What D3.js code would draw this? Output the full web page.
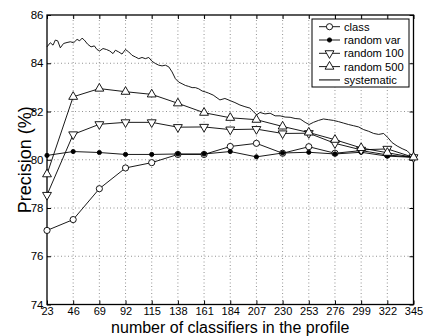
<!DOCTYPE html>
<html><head><meta charset="utf-8">
<script src="https://cdn.jsdelivr.net/npm/d3@7"></script>
<style>body{margin:0;background:#fff}svg{display:block;font-family:"Liberation Sans",Arial,sans-serif}</style>
</head><body>
<script>
const xTicks = [23,46,69,92,115,138,161,184,207,230,253,276,299,322,345];
const yTicks = [74,76,78,80,82,84,86];
const seriesNames = ["class","random var","random 100","random 500","systematic"];
const classVals   = [77.07,77.52,78.80,79.66,79.88,80.22,80.22,80.55,80.68,80.27,80.54,80.27,80.38,80.20,80.10];
const randVarVals = [80.18,80.34,80.30,80.22,80.22,80.24,80.24,80.34,80.12,80.28,80.31,80.24,80.31,80.15,80.10];
const rand100Vals = [78.54,81.05,81.47,81.55,81.55,81.35,81.36,81.25,81.27,81.09,81.10,80.68,80.41,80.45,80.10];
const rand500Vals = [79.40,82.61,82.95,82.82,82.71,82.34,81.95,81.74,81.66,81.38,81.13,80.83,80.49,80.29,80.10];
const sysX = [23,25.9,28.3,30.3,32.4,34.7,37.6,40.6,43.5,46.4,49.4,51.7,53.8,55.8,58.7,61.7,64.6,66.9,69.3,72.2,75.2,78.1,81,83.1,86,88.9,91.9,94.8,97.7,100.7,103.6,106.5,109.4,112.4,115.3,118.2,121.2,124.1,127,130,132.9,135.8,138.7,141.7,144.6,147.5,150.5,153.4,156.3,159.3,162.2,165.1,169,174.9,179.3,184,188.1,192.5,196.9,201.3,204.3,207.2,210.1,214.5,219,223.4,227.8,232.2,236.6,241,245.4,249.8,253.3,257.1,261.5,265.9,270.3,274.7,279.1,283.5,287.9,292.4,296.8,301.2,305.6,310,314.4,318.8,322.6,326.2,330.6,335,339.4,345];
const sysVals = [84.68,84.85,84.75,84.96,84.93,84.64,84.82,84.86,84.89,84.85,84.99,84.93,85.04,84.96,84.79,84.68,84.72,84.57,84.51,84.61,84.57,84.51,84.40,84.54,84.47,84.38,84.57,84.47,84.33,84.26,84.19,84.24,84.19,84.24,84.08,83.99,83.92,83.89,83.92,83.85,83.64,83.36,83.22,83.15,83.08,83.04,82.99,82.99,82.94,82.85,82.81,82.76,82.68,82.48,82.54,82.45,82.37,82.27,82.20,82.14,82.00,81.86,81.96,81.90,81.93,81.82,81.82,81.77,81.76,81.71,81.69,81.55,81.46,81.55,81.63,81.69,81.66,81.63,81.58,81.52,81.46,81.41,81.36,81.25,81.18,81.09,81.05,81.09,80.91,80.71,80.57,80.46,80.37,80.10];
const xLabel = "number of classifiers in the profile";
const yLabel = "Precision (%)";

const W=424,H=336, m={l:47,r:10.5,t:15,b:31.5};
const svg=d3.select("body").append("svg").attr("width",W).attr("height",H);
const x=d3.scaleLinear().domain([23,345]).range([m.l,W-m.r]);
const y=d3.scaleLinear().domain([74,86]).range([H-m.b,m.t]);

// grid
const g=svg.append("g");
g.selectAll(".vg").data(xTicks.slice(1,-1)).join("line")
 .attr("x1",d=>x(d)).attr("x2",d=>x(d)).attr("y1",y(74)).attr("y2",y(86))
 .attr("stroke","#777").attr("stroke-width",0.8).attr("stroke-dasharray","1,2.5");
g.selectAll(".hg").data(yTicks.slice(1,-1)).join("line")
 .attr("x1",x(23)).attr("x2",x(345)).attr("y1",d=>y(d)).attr("y2",d=>y(d))
 .attr("stroke","#777").attr("stroke-width",0.8).attr("stroke-dasharray","1,2.5");

// axes
const tl=4;
svg.append("g").attr("transform",`translate(0,${y(74)})`)
 .call(d3.axisBottom(x).tickValues(xTicks).tickFormat(d3.format("d")).tickSize(-tl).tickPadding(2.5))
 .call(a=>{a.select(".domain").remove();a.selectAll("text").attr("font-size",11).attr("fill","#000").attr("dy","0.7em");a.selectAll("line").attr("stroke","#000");});
svg.append("g").attr("transform",`translate(0,${y(86)})`)
 .call(d3.axisTop(x).tickValues(xTicks).tickFormat("").tickSize(-tl))
 .call(a=>{a.select(".domain").remove();a.selectAll("line").attr("stroke","#000");});
svg.append("g").attr("transform",`translate(${x(23)},0)`)
 .call(d3.axisLeft(y).tickValues(yTicks).tickFormat(d3.format("d")).tickSize(-tl).tickPadding(3.5))
 .call(a=>{a.select(".domain").remove();a.selectAll("text").attr("font-size",11.5).attr("fill","#000");a.selectAll("line").attr("stroke","#000");});
svg.append("g").attr("transform",`translate(${x(345)},0)`)
 .call(d3.axisRight(y).tickValues(yTicks).tickFormat("").tickSize(-tl))
 .call(a=>{a.select(".domain").remove();a.selectAll("line").attr("stroke","#000");});
svg.append("rect").attr("x",x(23)).attr("y",y(86)).attr("width",x(345)-x(23)).attr("height",y(74)-y(86))
 .attr("fill","none").attr("stroke","#000").attr("stroke-width",1.3);

// lines
const line=d3.line().x(d=>x(d[0])).y(d=>y(d[1]));
const sysData=sysX.map((v,i)=>[v,sysVals[i]]);
svg.append("path").datum(sysData).attr("d",line).attr("fill","none").attr("stroke","#000").attr("stroke-width",0.9);

const sym={
 "class":d3.symbol().type(d3.symbolCircle).size(30),
 "random var":d3.symbol().type(d3.symbolCircle).size(14),
 "random 100":d3.symbol().type(d3.symbolTriangle).size(34),
 "random 500":d3.symbol().type(d3.symbolTriangle).size(34)
};
const rot={"random 100":180};
const fills={"class":"#fff","random var":"#000","random 100":"#fff","random 500":"#fff"};
const series=[["class",classVals],["random var",randVarVals],["random 100",rand100Vals],["random 500",rand500Vals]];
series.forEach(([name,vals])=>{
  const data=xTicks.map((v,i)=>[v,vals[i]]);
  svg.append("path").datum(data).attr("d",line).attr("fill","none").attr("stroke","#000").attr("stroke-width",0.9);
  svg.selectAll(null).data(data).join("path")
   .attr("d",sym[name]).attr("transform",d=>`translate(${x(d[0])},${y(d[1])}) rotate(${rot[name]||0})`)
   .attr("fill",fills[name]).attr("stroke","#000").attr("stroke-width",0.9);
});

// legend
const lg=svg.append("g");
lg.append("rect").attr("x",312).attr("y",19).attr("width",97).attr("height",68).attr("fill","#fff").attr("stroke","#000").attr("stroke-width",1);
seriesNames.forEach((name,i)=>{
  const yy=26.7+i*13.3;
  lg.append("line").attr("x1",319).attr("x2",340).attr("y1",yy).attr("y2",yy).attr("stroke",name==="systematic"?"#333":"#000").attr("stroke-width",name==="systematic"?1.3:0.9);
  if(sym[name]) lg.append("path").attr("d",sym[name]).attr("transform",`translate(329.5,${yy}) rotate(${rot[name]||0})`)
     .attr("fill",fills[name]).attr("stroke","#000").attr("stroke-width",0.9);
  lg.append("text").attr("x",344).attr("y",yy).attr("dy","0.35em").attr("font-size",11.2).text(name);
});

// labels
svg.append("text").attr("x",(x(23)+x(345))/2).attr("y",332.5).attr("text-anchor","middle").attr("font-size",16).text(xLabel);
svg.append("text").attr("transform",`translate(31,${(y(74)+y(86))/2}) rotate(-90)`).attr("text-anchor","middle").attr("font-size",18).text(yLabel);
</script>
</body></html>
